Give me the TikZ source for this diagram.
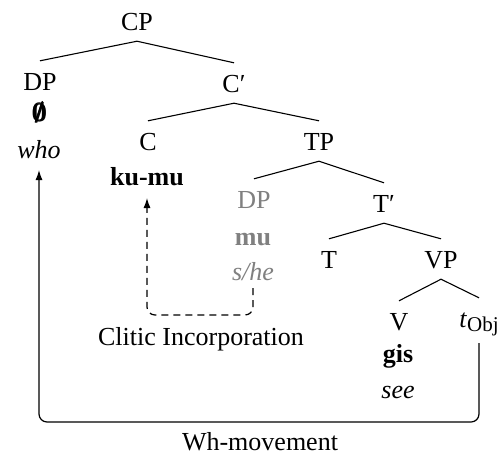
\documentclass[tikz,border=0pt]{standalone}
\usepackage{amsmath}
\usepackage{fontspec}
\setmainfont{Liberation Serif}[BoldFont={Liberation Serif Bold}, ItalicFont={Liberation Serif Italic}, BoldItalicFont={Liberation Serif Bold Italic}]
\usetikzlibrary{arrows.meta}
\definecolor{grayc}{RGB}{128,128,128}
\newcommand{\boldnull}{{\boldmath$\pmb{\emptyset}$}}
\begin{document}
\begin{tikzpicture}[x=1pt,y=-1pt,
  font=\fontsize{26}{30}\selectfont,
  cat/.style={anchor=base, inner xsep=0pt, inner ysep=11pt, text height=18pt, text depth=0pt},
  word/.style={anchor=base, inner sep=0pt},
  branch/.style={line width=1.1pt},
  move/.style={line width=1.2pt, rounded corners=8pt, -{Latex[length=10pt,width=7pt]}},
  dashmove/.style={move, dash pattern=on 7pt off 5pt}]
\useasboundingbox (0,0) rectangle (502,456);

\node[cat] (cp) at (137,30) {CP};
\node[cat] (dp) at (40,90) {DP};
\node[word] (emptyn) at (40,121) {\boldnull};
\node[word] (who) at (39,158) {\textit{who}};
\node[cat] (cbar) at (234,92) {C′};
\node[cat] (c) at (148,150) {C};
\node[word] (kumu) at (147,185) {\textbf{ku-mu}};
\node[cat] (tp) at (319,150) {TP};
\node[cat, text=grayc] (dp2) at (254,208) {DP};
\node[word, text=grayc] (mu) at (253,245) {\textbf{mu}};
\node[word, text=grayc] (she) at (253,280) {\textit{s/he}};
\node[cat] (tbar) at (384,212) {T′};
\node[cat] (t) at (329,268) {T};
\node[cat] (vp) at (441,268) {VP};
\node[cat] (v) at (399,330) {V};
\node[cat] (tobj) at (479,327) {\textit{t}\raisebox{-4pt}{\fontsize{21}{21}\selectfont Obj}};
\node[word] (gis) at (398,362) {\textbf{gis}};
\node[word] (see) at (398,398) {\textit{see}};
\node[word] (clitlbl) at (201,345) {Clitic Incorporation};
\node[word] (whlbl) at (260,450) {Wh-movement};

\draw[branch] (cp.south) -- (dp.north);
\draw[branch] (cp.south) -- (cbar.north);
\draw[branch] (cbar.south) -- (c.north);
\draw[branch] (cbar.south) -- (tp.north);
\draw[branch] (tp.south) -- (dp2.north);
\draw[branch] (tp.south) -- (tbar.north);
\draw[branch] (tbar.south) -- (t.north);
\draw[branch] (tbar.south) -- (vp.north);
\draw[branch] (vp.south) -- (v.north);
\draw[branch] (vp.south) -- (tobj.north);

\coordinate (clbot) at (0,315);
\coordinate (whbot) at (0,422);
\draw[dashmove] ([yshift=-8pt]she.base) -- (she.base |- clbot) -| ([yshift=-13pt]kumu.base);
\draw[move] ([yshift=-16pt]tobj.base) -- (tobj.base |- whbot) -| ([yshift=-12pt]who.base);
\end{tikzpicture}
\end{document}
